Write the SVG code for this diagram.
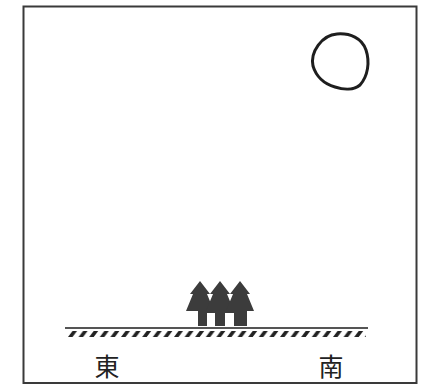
<svg xmlns="http://www.w3.org/2000/svg" width="422" height="385" viewBox="0 0 422 385">
<style>
.frame{fill:none;stroke:#3a3a3a;stroke-width:2}
.sun{fill:none;stroke:#1e1e1e;stroke-width:3}
.ground{stroke:#555;stroke-width:2}
.tree{fill:#3c3c3c}
.gap{fill:#fff}
.label{font-family:"Noto Sans CJK JP","Noto Sans CJK SC",sans-serif;font-size:25px;fill:#222;text-anchor:middle}
</style>
<defs>
<pattern id="hatch" patternUnits="userSpaceOnUse" x="68" y="331" width="10.6" height="6">
<polygon points="0,6 4.5,0 9,0 4.5,6" fill="#222"/>
</pattern>
</defs>
<rect width="422" height="385" fill="#fff"/>
<rect class="frame" x="23.5" y="6.5" width="393" height="376.5"/>
<g id="sun">
<path class="sun" d="M337,34 C350,33 362,38 366,50 C370,62 368,76 360,85 C354,90 344,90 335,87 C324,84 316,76 313,66 C310,52 322,35 337,34 Z"/>
</g>
<g id="ground">
<line class="ground" x1="65" y1="328" x2="368" y2="328"/>
<rect x="68" y="331" width="298" height="6" fill="url(#hatch)"/>
</g>
<g id="trees">
<polygon class="tree" points="200,281 190,294 193,294 186,311 214,311 207,294 210,294"/>
<polygon class="tree" points="220,281 210,294 213,294 206,311 234,311 227,294 230,294"/>
<polygon class="tree" points="240,281 230,294 233,294 226,311 254,311 247,294 250,294"/>
<rect class="tree" x="198" y="310" width="49" height="16"/>
<rect class="gap" x="207" y="313" width="8" height="13"/>
<rect class="gap" x="225" y="313" width="9" height="13"/>
</g>
<g id="labels">
<text class="label" x="107" y="376">東</text>
<text class="label" x="331" y="376">南</text>
</g>
</svg>
